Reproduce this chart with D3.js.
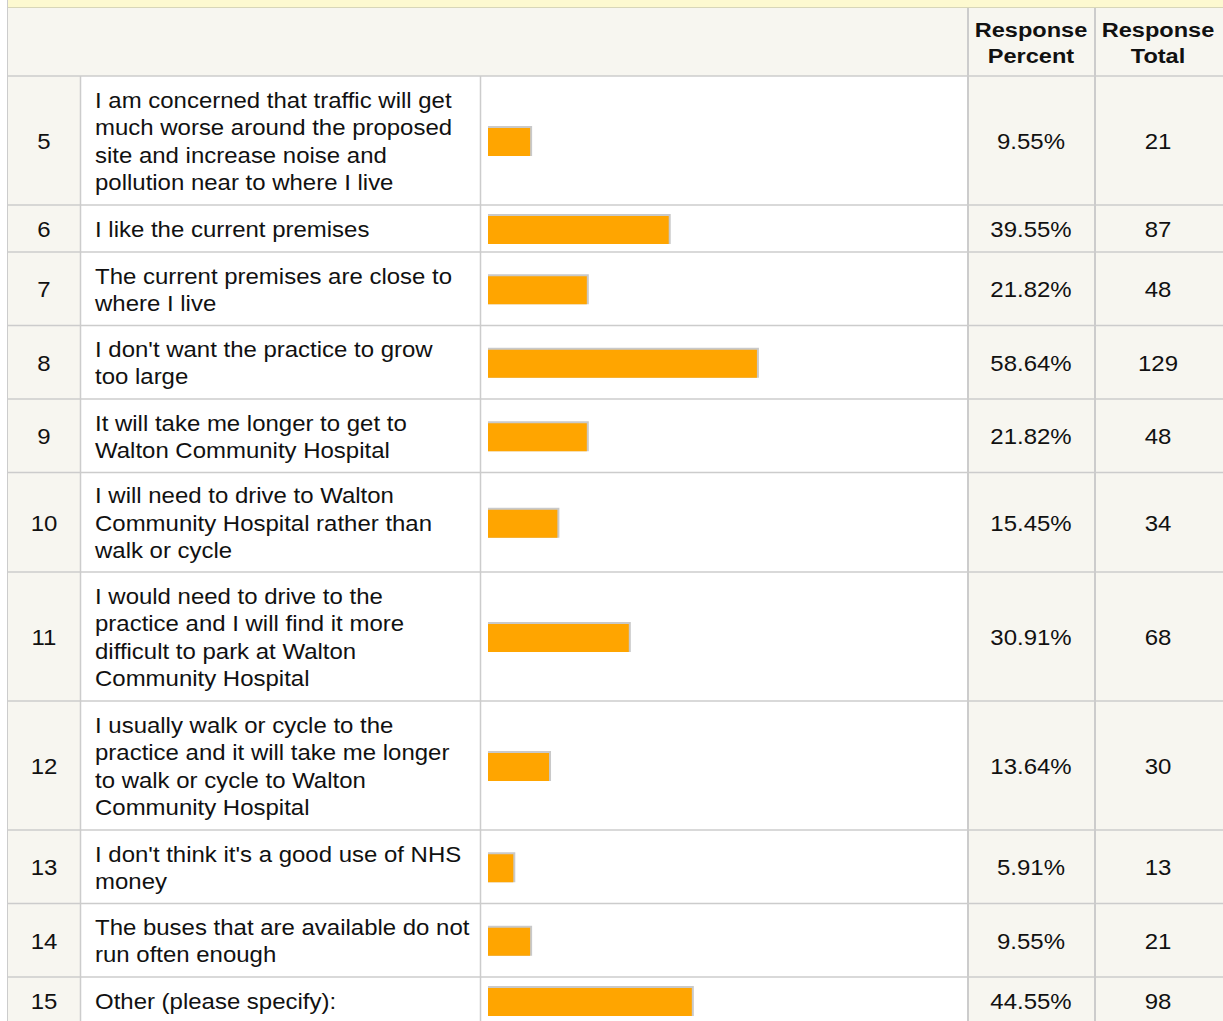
<!DOCTYPE html>
<html>
<head>
<meta charset="utf-8">
<script src="https://cdn.jsdelivr.net/npm/d3@7"></script>
<style>
  body { margin: 0; background: #fff; }
  text { font-family: "Liberation Sans", Arial, sans-serif; fill: #111; }
</style>
</head>
<body>
<div id="table"></div>
<script>
// survey answers, one entry per row
var ids = [5, 6, 7, 8, 9, 10, 11, 12, 13, 14, 15];
var labels = [
    ["I am concerned that traffic will get", "much worse around the proposed", "site and increase noise and", "pollution near to where I live"],
    ["I like the current premises"],
    ["The current premises are close to", "where I live"],
    ["I don't want the practice to grow", "too large"],
    ["It will take me longer to get to", "Walton Community Hospital"],
    ["I will need to drive to Walton", "Community Hospital rather than", "walk or cycle"],
    ["I would need to drive to the", "practice and I will find it more", "difficult to park at Walton", "Community Hospital"],
    ["I usually walk or cycle to the", "practice and it will take me longer", "to walk or cycle to Walton", "Community Hospital"],
    ["I don't think it's a good use of NHS", "money"],
    ["The buses that are available do not", "run often enough"],
    ["Other (please specify):"]
];
var percents = [9.55, 39.55, 21.82, 58.64, 21.82, 15.45, 30.91, 13.64, 5.91, 9.55, 44.55];
var totals = [21, 87, 48, 129, 48, 34, 68, 30, 13, 21, 98];
var headPercent = ["Response", "Percent"];
var headTotal = ["Response", "Total"];

var width = 1223, height = 1021;
var colNum = 8, colText = 81, colBar = 481, colPct = 969, colTot = 1096;
var headTop = 8, headBottom = 76;
var lineH = 27.3, stretch = 1.09;
var rowH = {1: 47, 2: 73.5, 3: 99.5, 4: 129};
var beige = "#f7f6f0", grid = "#cccccc";

var rows = [];
var y0 = headBottom;
ids.forEach(function(id, i) {
    var h = rowH[labels[i].length];
    rows.push({id: id, lines: labels[i], pct: percents[i], total: totals[i], top: y0, h: h});
    y0 += h;
});

var svg = d3.select("div#table")
    .append("svg")
        .attr("width", width)
        .attr("height", height);

// top band + header
svg.append("rect").attr("x", colNum).attr("y", 0).attr("width", width - colNum).attr("height", 7).style("fill", "#fdf9d0");
svg.append("rect").attr("x", colNum).attr("y", headTop).attr("width", width - colNum).attr("height", headBottom - headTop).style("fill", beige);

// column backgrounds
svg.append("rect").attr("x", colNum).attr("y", headBottom).attr("width", colText - colNum).attr("height", height).style("fill", beige);
svg.append("rect").attr("x", colPct).attr("y", headBottom).attr("width", width - colPct).attr("height", height).style("fill", beige);

var x = d3.scaleLinear()
    .domain([0, 100])
    .range([0, 462]);

var row = svg.selectAll(".row")
    .data(rows)
    .enter()
    .append("g")
        .attr("class", "row")
        .attr("transform", function(d) { return "translate(0," + d.top + ")"; });

// bars: grey shadow then orange fill
row.append("rect")
    .attr("x", colBar + 7)
    .attr("y", function(d) { return d.h / 2 - 14.5; })
    .attr("width", function(d) { return x(d.pct); })
    .attr("height", 30)
    .style("fill", "#c9c9c9");
row.append("rect")
    .attr("x", colBar + 7)
    .attr("y", function(d) { return d.h / 2 - 12.5; })
    .attr("width", function(d) { return x(d.pct) - 2; })
    .attr("height", 28)
    .style("fill", "#ffa500");

function cellText(sel, cx, anchor, fn) {
    sel.append("text")
        .attr("transform", function(d) { return "translate(" + cx + "," + (d.h / 2 + 8.5) + ") scale(" + stretch + ",1)"; })
        .attr("text-anchor", anchor)
        .style("font-size", "22px")
        .text(fn);
}
cellText(row, 44, "middle", function(d) { return d.id; });
cellText(row, 1031, "middle", function(d) { return d.pct.toFixed(2) + "%"; });
cellText(row, 1158, "middle", function(d) { return d.total; });

row.each(function(d) {
    var g = d3.select(this);
    var n = d.lines.length;
    g.selectAll(".label")
        .data(d.lines)
        .enter()
        .append("text")
            .attr("class", "label")
            .attr("transform", function(t, j) {
                return "translate(95," + (d.h / 2 + (j - (n - 1) / 2) * lineH + 8.5) + ") scale(" + stretch + ",1)";
            })
            .style("font-size", "22px")
            .text(function(t) { return t; });
});

// header labels
[[headPercent, 1031], [headTotal, 1158]].forEach(function(h) {
    svg.selectAll(null)
        .data(h[0])
        .enter()
        .append("text")
            .attr("transform", function(t, j) { return "translate(" + h[1] + "," + (37 + j * 26) + ") scale(1.15,1)"; })
            .attr("text-anchor", "middle")
            .style("font-size", "20.5px")
            .style("font-weight", "bold")
            .text(function(t) { return t; });
});

// grid lines
svg.append("line").attr("x1", colNum - 0.5).attr("x2", colNum - 0.5).attr("y1", 0).attr("y2", height).style("stroke", grid);
svg.append("line").attr("x1", colNum).attr("x2", width).attr("y1", 7.5).attr("y2", 7.5).style("stroke", "#d8d6b8");
svg.append("line").attr("x1", colNum).attr("x2", width).attr("y1", headBottom).attr("y2", headBottom).style("stroke", grid).style("stroke-width", 1.5);
row.append("line")
    .attr("x1", colNum).attr("x2", width)
    .attr("y1", function(d) { return d.h; }).attr("y2", function(d) { return d.h; })
    .style("stroke", grid).style("stroke-width", 1.5);
[colText - 0.5, colBar - 0.5].forEach(function(cx) {
    svg.append("line").attr("x1", cx).attr("x2", cx).attr("y1", headBottom).attr("y2", height).style("stroke", grid).style("stroke-width", 1.5);
});
[colPct - 1, colTot - 1].forEach(function(cx) {
    svg.append("line").attr("x1", cx).attr("x2", cx).attr("y1", headTop).attr("y2", height).style("stroke", grid).style("stroke-width", 2);
});
</script>
</body>
</html>
